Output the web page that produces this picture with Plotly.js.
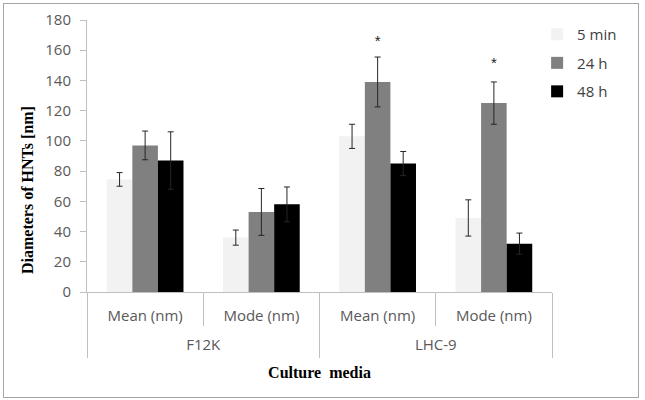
<!DOCTYPE html>
<html>
<head>
<meta charset="utf-8">
<script src="https://cdn.plot.ly/plotly-3.0.1.min.js"></script>
<style>
  html, body { margin: 0; padding: 0; background: #fff; }
  #wrap { position: relative; width: 645px; height: 400px; }
  #chart { width: 645px; height: 400px; }
  #frame { position: absolute; left: 3px; top: 3px; width: 634px; height: 393px; border: 1px solid #a6a6a6; pointer-events: none; }
</style>
</head>
<body>
<div id="wrap"><div id="chart"></div><div id="frame"></div></div>
<script>
// Data
const media = ['F12K', 'F12K', 'LHC-9', 'LHC-9'];
const stats = ['Mean (nm)', 'Mode (nm)', 'Mean (nm)', 'Mode (nm)'];
const groups = ['F12K', 'LHC-9'];
const seriesNames = ['5 min', '24 h', '48 h'];
const val5min = [74.5, 36, 103, 49];
const err5min = [4.5, 5, 8, 12];
const val24h = [97, 53, 139, 125];
const err24h = [9.5, 15.5, 16.5, 14];
const val48h = [87, 58, 85, 32];
const err48h = [19, 11.5, 8, 7];
const starMedia = ['LHC-9', 'LHC-9'];
const starStats = ['Mean (nm)', 'Mode (nm)'];
const starY = [165, 151];
const starText = ['*', '*'];
const colors = ['#f2f2f2', '#808080', '#000000'];

const key = (m, s) => m + ' · ' + s;
const cats = media.map((m, i) => key(m, stats[i]));
const starCats = starMedia.map((m, i) => key(m, starStats[i]));

const vals = [val5min, val24h, val48h];
const errs = [err5min, err24h, err48h];

const traces = seriesNames.map((n, i) => ({
  type: 'bar',
  name: n,
  x: cats,
  y: vals[i],
  marker: { color: colors[i], line: { width: 0 } },
  error_y: { type: 'data', array: errs[i], visible: true, color: '#262626', thickness: 1, width: 3 },
  legendgroup: 'g' + i,
  hoverinfo: 'skip'
}));

traces.push({
  type: 'scatter',
  mode: 'text',
  x: starCats,
  y: starY,
  text: starText,
  textfont: { size: 15, color: '#222', family: 'Liberation Sans, Arial, sans-serif' },
  showlegend: false,
  hoverinfo: 'skip'
});

// carrier for the outer category level
traces.push({
  type: 'scatter',
  mode: 'markers',
  x: groups,
  y: groups.map(() => null),
  xaxis: 'x2',
  showlegend: false,
  hoverinfo: 'skip'
});

const tickFont = { family: 'Open Sans, Liberation Sans, sans-serif', size: 15, color: '#595959' };
const serif = 'Liberation Serif, Times New Roman, serif';

const layout = {
  width: 645,
  height: 400,
  margin: { l: 87, r: 93, t: 20, b: 108 },
  paper_bgcolor: '#ffffff',
  plot_bgcolor: '#ffffff',
  barmode: 'group',
  bargap: 0.34,
  bargroupgap: 0,
  showlegend: true,
  legend: {
    x: 0.968, y: 1.007, xanchor: 'left', yanchor: 'top',
    font: { family: 'Open Sans, Liberation Sans, sans-serif', size: 15, color: '#404040' },
    tracegroupgap: 6,
    traceorder: 'grouped',
    bgcolor: 'rgba(0,0,0,0)'
  },
  xaxis: {
    type: 'category',
    categoryorder: 'array',
    categoryarray: cats,
    tickvals: cats,
    ticktext: stats,
    tickson: 'boundaries',
    showline: true,
    linecolor: '#bfbfbf',
    linewidth: 1,
    ticks: 'outside',
    ticklen: 33,
    tickcolor: '#bfbfbf',
    tickfont: tickFont,
    ticklabelstandoff: 10,
    showgrid: false,
    zeroline: false,
    automargin: false,
    range: [-0.5, cats.length - 0.5]
  },
  xaxis2: {
    type: 'category',
    overlaying: 'x',
    anchor: 'y',
    side: 'bottom',
    categoryorder: 'array',
    categoryarray: groups,
    range: [-0.5, groups.length - 0.5],
    tickson: 'boundaries',
    showline: false,
    ticks: 'outside',
    ticklen: 65,
    tickcolor: '#bfbfbf',
    tickfont: tickFont,
    ticklabelstandoff: 42,
    showgrid: false,
    zeroline: false,
    automargin: false,
    title: { text: 'Culture  media', font: { family: serif, size: 16, color: '#000', weight: 'bold' }, standoff: 13 }
  },
  yaxis: {
    range: [0, 180],
    dtick: 20,
    showline: true,
    linecolor: '#bfbfbf',
    linewidth: 1,
    ticks: 'outside',
    ticklen: 6,
    tickcolor: '#bfbfbf',
    tickfont: tickFont,
    ticklabelstandoff: 6,
    showgrid: false,
    zeroline: false,
    automargin: false
  },
  annotations: [{
    text: '<b>Diameters of HNTs [nm]</b>',
    xref: 'paper', yref: 'paper',
    x: -0.129, y: 0.375,
    xanchor: 'center', yanchor: 'middle',
    textangle: -90,
    showarrow: false,
    font: { family: serif, size: 16, color: '#000' }
  }]
};

Plotly.newPlot('chart', traces, layout, { staticPlot: true, displayModeBar: false });
</script>
</body>
</html>
